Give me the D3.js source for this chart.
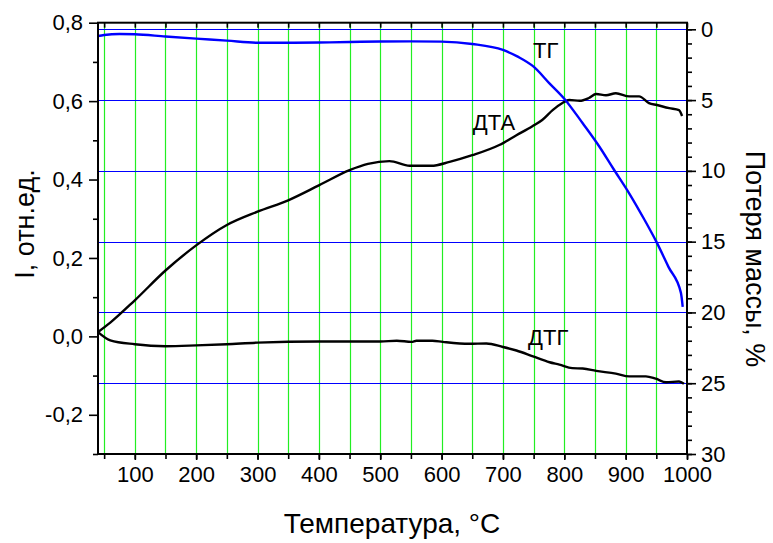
<!DOCTYPE html>
<html>
<head>
<meta charset="utf-8">
<script src="https://cdn.jsdelivr.net/npm/d3@7"></script>
<style>
  body { margin: 0; background: #fff; }
  text { font-family: "Liberation Sans", Arial, sans-serif; fill: #000; }
</style>
</head>
<body>
<div id="chart"></div>
<script>
// data
const tempTG = [40, 50, 75, 100, 150, 200, 250, 300, 350, 400, 450, 500, 550, 600, 650, 700, 725, 750, 775, 800, 830, 857, 880, 906, 930, 950, 970, 990, 993];
const tgLoss = [0.47, 0.40, 0.33, 0.35, 0.51, 0.66, 0.80, 0.95, 0.95, 0.93, 0.90, 0.86, 0.85, 0.87, 1.04, 1.46, 1.95, 2.64, 3.78, 4.90, 6.64, 8.28, 9.85, 11.6, 13.4, 15.0, 16.8, 18.6, 19.6];

const tempDTA = [40, 60, 100, 150, 200, 250, 300, 350, 400, 450, 480, 515, 548, 583, 613, 650, 694, 722, 748, 764, 781, 797, 808, 825, 840, 852, 868, 884, 906, 922, 938, 951, 971, 987, 992];
const dta = [0.011, 0.035, 0.092, 0.168, 0.232, 0.284, 0.318, 0.347, 0.385, 0.424, 0.440, 0.447, 0.435, 0.435, 0.445, 0.462, 0.488, 0.513, 0.536, 0.552, 0.577, 0.595, 0.603, 0.601, 0.608, 0.618, 0.615, 0.620, 0.612, 0.612, 0.595, 0.590, 0.582, 0.577, 0.562];

const tempDTG = [40, 60, 100, 150, 200, 250, 300, 400, 500, 527, 551, 559, 585, 602, 645, 673, 700, 722, 749, 776, 792, 813, 830, 852, 884, 906, 933, 949, 966, 987, 995];
const dtg = [0.011, -0.010, -0.020, -0.025, -0.023, -0.020, -0.016, -0.013, -0.013, -0.011, -0.014, -0.011, -0.011, -0.014, -0.019, -0.018, -0.027, -0.036, -0.051, -0.066, -0.072, -0.081, -0.082, -0.088, -0.095, -0.102, -0.102, -0.108, -0.117, -0.115, -0.121];

const xTicks = d3.range(100, 1001, 100);
const xMinor = d3.range(50, 1001, 50);
const yLeftTicks = [-0.2, 0, 0.2, 0.4, 0.6, 0.8];
const yLeftMinor = [-0.3, -0.1, 0.1, 0.3, 0.5, 0.7];
const yRightTicks = [0, 5, 10, 15, 20, 25, 30];
const yRightMinor = d3.range(0, 31, 1);
const greenGrid = d3.range(50, 951, 50);
const blueGrid = [0, 5, 10, 15, 20, 25];

const W = 773, H = 543;
const margin = {top: 22.7, right: 86, bottom: 89, left: 98};
const x0 = margin.left, x1 = W - margin.right;
const y0 = H - margin.bottom, y1 = margin.top;

const x = d3.scaleLinear().domain([40, 1000]).range([x0, x1]);
const yL = d3.scaleLinear().domain([-0.3, 0.8]).range([y0, y1]);
const yR = d3.scaleLinear().domain([30, 0]).range([y0, 29.3]);

const svg = d3.select("#chart").append("svg")
    .attr("width", W)
    .attr("height", H);

const comma = d => d3.format(".1f")(d).replace(".", ",").replace("−", "-");

// grid
svg.append("g").selectAll("line")
    .data(greenGrid)
    .join("line")
    .attr("x1", d => Math.round(x(d)) + 0.5).attr("x2", d => Math.round(x(d)) + 0.5)
    .attr("y1", y1).attr("y2", y0)
    .attr("stroke", "#22ee22").attr("stroke-width", 1.2);

svg.append("g").selectAll("line")
    .data(blueGrid)
    .join("line")
    .attr("x1", x0).attr("x2", x1)
    .attr("y1", d => Math.round(yR(d)) + 0.5).attr("y2", d => Math.round(yR(d)) + 0.5)
    .attr("stroke", "#0000ff").attr("stroke-width", 1.2);

// curves
const line = (xs, ys, sy) => d3.line()
    .x((d, i) => x(xs[i]))
    .y(d => sy(d))
    .curve(d3.curveMonotoneX)(ys);

svg.append("path").attr("d", line(tempDTA, dta, yL))
    .attr("fill", "none").attr("stroke", "#000").attr("stroke-width", 2.4);
svg.append("path").attr("d", line(tempDTG, dtg, yL))
    .attr("fill", "none").attr("stroke", "#000").attr("stroke-width", 2.4);
svg.append("path").attr("d", line(tempTG, tgLoss, yR))
    .attr("fill", "none").attr("stroke", "#0000ff").attr("stroke-width", 2.4);

// axes
const gBottom = svg.append("g").attr("transform", `translate(0,${y0})`);
gBottom.call(d3.axisBottom(x).tickValues(xMinor).tickSize(5).tickFormat(""));
gBottom.append("g").call(d3.axisBottom(x).tickValues(xTicks).tickSize(6).tickPadding(6).tickFormat(d3.format("d")));

const gTop = svg.append("g").attr("transform", `translate(0,${y1})`);
gTop.call(d3.axisBottom(x).tickValues(xMinor).tickSize(5).tickFormat(""));

const gLeft = svg.append("g").attr("transform", `translate(${x0},0)`);
gLeft.call(d3.axisLeft(yL).tickValues(yLeftMinor).tickSize(5).tickFormat(""));
gLeft.append("g").call(d3.axisLeft(yL).tickValues(yLeftTicks).tickSize(9).tickPadding(6).tickFormat(comma));

const gRight = svg.append("g").attr("transform", `translate(${x1},0)`);
gRight.call(d3.axisRight(yR).tickValues(yRightMinor).tickSize(5).tickFormat(""));
gRight.append("g").call(d3.axisRight(yR).tickValues(yRightTicks).tickSize(9).tickPadding(5).tickFormat(d3.format("d")));

svg.selectAll(".domain").remove();
svg.selectAll(".tick line").attr("stroke", "#000").attr("stroke-width", 1.6);
svg.selectAll(".tick text").style("font-size", "22px").attr("fill", "#000");

// frame
svg.append("rect")
    .attr("x", x0).attr("y", y1)
    .attr("width", x1 - x0).attr("height", y0 - y1)
    .attr("fill", "none").attr("stroke", "#000").attr("stroke-width", 2);

// curve labels
const labels = [
    {t: "ТГ", T: 749, v: 0.71},
    {t: "ДТА", T: 651, v: 0.526},
    {t: "ДТГ", T: 741, v: -0.022}
];
svg.append("g").selectAll("text")
    .data(labels)
    .join("text")
    .attr("x", d => x(d.T)).attr("y", d => yL(d.v))
    .style("font-size", "22px")
    .text(d => d.t);

// titles
svg.append("text")
    .attr("x", 392).attr("y", 533)
    .attr("text-anchor", "middle")
    .style("font-size", "28px")
    .text("Температура, °C");

svg.append("text")
    .attr("transform", `translate(34,224) rotate(-90)`)
    .attr("text-anchor", "middle")
    .style("font-size", "27px")
    .text("I, отн.ед.");

svg.append("text")
    .attr("transform", `translate(746,259) rotate(90)`)
    .attr("text-anchor", "middle")
    .style("font-size", "27px")
    .text("Потеря массы, %");
</script>
</body>
</html>
